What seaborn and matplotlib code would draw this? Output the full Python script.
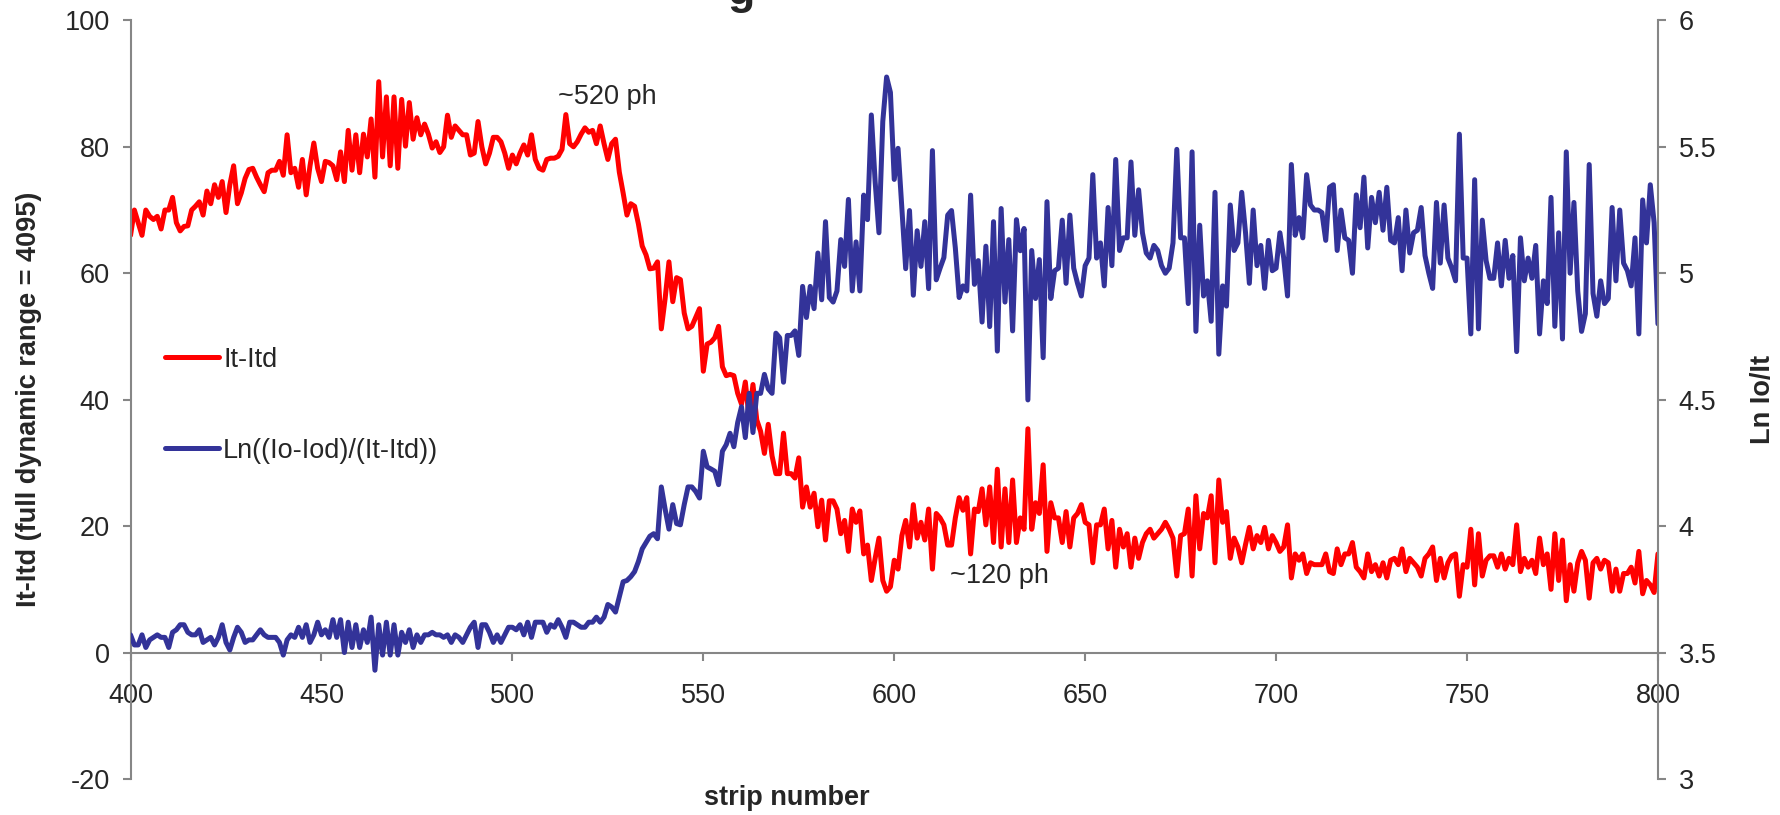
import numpy as np
import matplotlib
matplotlib.use("Agg")
import matplotlib.pyplot as plt
import seaborn as sns

# strip numbers, one value per strip
strips = np.arange(400, 801)

# It-Itd (left axis)
it_itd = [
    66, 70, 68, 66, 70, 69, 68.5, 69, 67, 70,
    70, 72, 68, 66.7, 67.4, 67.5, 70, 70.6, 71.3, 69.2,
    73, 71, 74, 72, 74.5, 69.6, 74, 77, 71, 72.7,
    75, 76.4, 76.6, 75.2, 74, 72.9, 75.9, 76.3, 76.3, 77.7,
    75.5, 81.9, 75.9, 76.6, 73.6, 78, 72.4, 77, 80.6, 76.6,
    74.5, 77.7, 77.5, 77, 74.8, 79.2, 74.5, 82.6, 76.3, 81.9,
    75.9, 82, 78.4, 84.4, 75.2, 90.3, 78.4, 87.9, 77, 87.9,
    76.6, 87.5, 80.1, 87, 81.2, 84.6, 81.9, 83.6, 82, 79.8,
    80.8, 79.1, 80, 85, 81.5, 83.3, 82.6, 81.9, 81.9, 78.7,
    79, 84, 80, 77.3, 79, 81.5, 81.5, 80.8, 79, 76.6,
    78.7, 77.3, 79, 80.3, 78.7, 81.9, 78, 76.6, 76.3, 78,
    78.2, 78.2, 78.5, 79.6, 85.1, 80.5, 80, 80.8, 82, 83,
    82.3, 82.6, 80.5, 83.3, 80.5, 78, 80.5, 81.2, 76, 72.7,
    69.2, 71, 70.6, 67.8, 64.3, 62.9, 60.7, 60.8, 61.8, 51.2,
    56, 61.8, 55.5, 59.3, 59, 53.7, 51.2, 51.6, 53, 54.4,
    44.5, 48.8, 49.1, 49.8, 51.6, 45.2, 43.8, 44, 43.8, 41,
    39.3, 42.8, 37.1, 42.4, 36.8, 35, 31.5, 36.1, 31.1, 28.3,
    28.3, 34.7, 28.3, 28.3, 27.6, 30.8, 23, 26.2, 23, 25.2,
    19.9, 24.1, 17.8, 24, 24, 22.7, 18.8, 20.9, 16, 22.7,
    20.6, 22.4, 15.6, 17, 11.4, 14.9, 18.1, 11.4, 9.7, 10.4,
    14.6, 13.2, 18.5, 20.9, 16.7, 23.4, 18.1, 20.6, 17.8, 22.7,
    13.2, 22, 21.3, 20.2, 17, 17, 21.3, 24.5, 22.5, 24.5,
    15.6, 22.7, 22.3, 25.9, 20.2, 26.2, 17.4, 29, 16.7, 25.9,
    17.4, 27.3, 17.4, 21.3, 19.5, 35.4, 19.5, 23.7, 22, 29.7,
    16, 23.7, 21.3, 21.3, 17.4, 22.3, 16.7, 21.3, 22, 23.4,
    20.6, 20.2, 14.2, 20.2, 20.2, 22.7, 16.4, 20.9, 13.5, 19.5,
    16.7, 18.8, 13.5, 18.1, 14.9, 17.4, 18.8, 19.5, 18.1, 18.8,
    19.5, 20.6, 19.5, 18.1, 12.1, 18.5, 18.8, 22.7, 12.1, 24.8,
    16.4, 22, 21.3, 24.8, 14.2, 27.3, 20.6, 22.3, 14.9, 18.1,
    16.7, 14.2, 17.1, 19.8, 16.4, 18.5, 17.4, 19.8, 16.4, 18.5,
    17.4, 16, 16.7, 20.2, 11.8, 15.6, 14.6, 15.6, 12.5, 14.2,
    13.9, 13.9, 13.9, 15.6, 12.8, 12.5, 16.4, 13.9, 15.6, 15.6,
    17.4, 13.5, 12.8, 11.8, 15.6, 12.8, 13.9, 12.1, 14.2, 11.8,
    14.6, 14.9, 13.9, 16.4, 12.8, 14.9, 14.2, 13.5, 12.1, 14.9,
    15.6, 16.7, 11.4, 14.9, 11.8, 14.2, 15.3, 15.6, 8.9, 13.9,
    13.5, 19.5, 10.7, 18.8, 12.1, 14.6, 15.3, 15.3, 13.5, 15.6,
    13.2, 14.9, 13.9, 20.2, 12.8, 14.9, 13.5, 14.6, 12.5, 18.1,
    13.9, 15.6, 10, 18.8, 11.4, 17.8, 8.2, 13.9, 9.7, 14.2,
    16, 14.6, 8.6, 14.2, 14.9, 13.2, 14.6, 14.2, 9.7, 13.2,
    9.7, 12.5, 12.5, 13.5, 11, 16, 9.3, 11.4, 10.7, 9.5,
    15.6,
]

# Ln((Io-Iod)/(It-Itd)) (right axis)
ln_ratio = [
    3.57, 3.53, 3.53, 3.57, 3.52, 3.55, 3.56, 3.57, 3.56, 3.56,
    3.52, 3.58, 3.59, 3.61, 3.61, 3.58, 3.57, 3.57, 3.59, 3.54,
    3.55, 3.56, 3.53, 3.56, 3.61, 3.54, 3.51, 3.56, 3.60, 3.58,
    3.54, 3.55, 3.55, 3.57, 3.59, 3.57, 3.56, 3.56, 3.56, 3.54,
    3.49, 3.55, 3.57, 3.56, 3.60, 3.56, 3.61, 3.54, 3.57, 3.62,
    3.57, 3.59, 3.56, 3.63, 3.56, 3.63, 3.50, 3.62, 3.52, 3.61,
    3.52, 3.59, 3.54, 3.64, 3.43, 3.61, 3.49, 3.62, 3.49, 3.61,
    3.49, 3.58, 3.54, 3.59, 3.52, 3.57, 3.54, 3.57, 3.57, 3.58,
    3.57, 3.57, 3.56, 3.57, 3.54, 3.57, 3.56, 3.54, 3.57, 3.60,
    3.62, 3.52, 3.61, 3.61, 3.58, 3.54, 3.57, 3.54, 3.57, 3.60,
    3.60, 3.59, 3.61, 3.57, 3.62, 3.56, 3.62, 3.62, 3.62, 3.58,
    3.61, 3.60, 3.63, 3.60, 3.56, 3.62, 3.62, 3.61, 3.60, 3.60,
    3.62, 3.62, 3.64, 3.62, 3.64, 3.69, 3.68, 3.66, 3.72, 3.78,
    3.785, 3.80, 3.82, 3.86, 3.91, 3.935, 3.96, 3.97, 3.95, 4.155,
    4.067, 3.988, 4.085, 4.01, 4.005, 4.085, 4.155, 4.155, 4.137, 4.111,
    4.296, 4.234, 4.226, 4.217, 4.164, 4.296, 4.322, 4.367, 4.314, 4.41,
    4.472, 4.35, 4.525, 4.37, 4.525, 4.525, 4.60, 4.543, 4.525, 4.763,
    4.745, 4.569, 4.754, 4.754, 4.772, 4.675, 4.948, 4.825, 4.948, 4.86,
    5.08, 4.895, 5.204, 4.904, 4.886, 4.93, 5.133, 5.027, 5.292, 4.93,
    5.124, 4.93, 5.309, 5.212, 5.626, 5.362, 5.16, 5.60, 5.776, 5.715,
    5.371, 5.494, 5.256, 5.018, 5.248, 4.913, 5.168, 5.027, 5.204, 4.939,
    5.485, 4.974, 5.02, 5.062, 5.23, 5.248, 5.1, 4.904, 4.95, 4.93,
    5.309, 4.956, 5.05, 4.807, 5.107, 4.789, 5.204, 4.692, 5.256, 4.886,
    5.133, 4.772, 5.212, 5.089, 5.177, 4.499, 5.09, 4.9, 5.054, 4.666,
    5.283, 4.9, 5.01, 5.02, 5.21, 4.96, 5.23, 5.02, 4.96, 4.91,
    5.03, 5.06, 5.39, 5.06, 5.12, 4.95, 5.26, 5.03, 5.45, 5.09,
    5.14, 5.14, 5.44, 5.15, 5.33, 5.16, 5.08, 5.06, 5.11, 5.09,
    5.03, 5.00, 5.02, 5.12, 5.49, 5.14, 5.14, 4.88, 5.48, 4.77,
    5.19, 4.91, 4.97, 4.81, 5.32, 4.68, 4.95, 4.87, 5.27, 5.09,
    5.12, 5.32, 5.16, 4.96, 5.25, 5.03, 5.11, 4.94, 5.13, 5.01,
    5.02, 5.16, 5.06, 4.91, 5.43, 5.15, 5.22, 5.14, 5.39, 5.27,
    5.25, 5.25, 5.24, 5.13, 5.34, 5.35, 5.09, 5.25, 5.14, 5.13,
    5.00, 5.31, 5.18, 5.38, 5.10, 5.30, 5.20, 5.32, 5.17, 5.34,
    5.13, 5.12, 5.22, 5.01, 5.25, 5.08, 5.16, 5.17, 5.26, 5.07,
    5.00, 4.94, 5.28, 5.04, 5.27, 5.06, 5.02, 4.97, 5.55, 5.06,
    5.06, 4.76, 5.37, 4.78, 5.21, 5.05, 4.98, 4.98, 5.12, 4.95,
    5.13, 4.98, 5.07, 4.69, 5.14, 4.97, 5.06, 4.98, 5.11, 4.76,
    4.97, 4.88, 5.30, 4.79, 5.16, 4.74, 5.48, 5.00, 5.28, 4.93,
    4.77, 4.84, 5.43, 4.92, 4.83, 4.97, 4.88, 4.90, 5.26, 4.97,
    5.25, 5.04, 5.01, 4.95, 5.14, 4.76, 5.29, 5.12, 5.35, 5.20,
    4.80,
]

x_ticks = [400, 450, 500, 550, 600, 650, 700, 750, 800]
left_ticks = [-20, 0, 20, 40, 60, 80, 100]
right_ticks = [3, 3.5, 4, 4.5, 5, 5.5, 6]

RED = "#FF0000"
BLUE = "#333399"
GREY = "#868686"
FS = 19.5

sns.set_style("white")
plt.rcParams["font.family"] = ["Liberation Sans", "DejaVu Sans"]
plt.rcParams["axes.unicode_minus"] = False

fig = plt.figure(figsize=(17.81, 8.15), dpi=100)
ax = fig.add_axes([0.0733, 0.0442, 0.8576, 0.9308])
ax2 = ax.twinx()

sns.lineplot(x=strips, y=it_itd, ax=ax, color=RED, linewidth=3.6, legend=False)
sns.lineplot(x=strips, y=ln_ratio, ax=ax2, color=BLUE, linewidth=3.6, legend=False)
for line in ax.lines + ax2.lines:
    line.set_solid_joinstyle("round")

ax.set_xlim(400, 800)
ax.set_ylim(-20, 100)
ax2.set_ylim(3, 6)
ax.set_xticks(x_ticks)
ax.set_yticks(left_ticks)
ax2.set_yticks(right_ticks)
ax2.set_yticklabels([f"{t:g}" for t in right_ticks])

# spines: left / right grey, x axis line sits at y = 0
ax.spines["top"].set_visible(False)
ax.spines["right"].set_visible(False)
ax.spines["bottom"].set_position(("data", 0))
for a in (ax, ax2):
    for s in a.spines.values():
        s.set_color(GREY)
        s.set_linewidth(1.5)
ax2.spines["top"].set_visible(False)
ax2.spines["left"].set_visible(False)
ax2.spines["bottom"].set_visible(False)

ax.tick_params(axis="x", direction="out", length=6, width=1.5, color=GREY,
               labelsize=FS, pad=16, bottom=True)
ax.tick_params(axis="y", direction="out", length=6, width=1.5, color=GREY,
               labelsize=FS, pad=9, left=True)
ax2.tick_params(axis="y", direction="out", length=6, width=1.5, color=GREY,
                labelsize=FS, pad=9, right=True)

ax.set_xlabel("")
ax.set_ylabel("It-Itd (full dynamic range = 4095)", fontsize=FS, fontweight="bold")
ax.yaxis.set_label_coords(-0.058, 0.5)
ax2.set_ylabel("Ln Io/It", fontsize=FS, fontweight="bold")
ax2.yaxis.set_label_coords(1.06, 0.5)
fig.text(0.4417, 0.021, "strip number", fontsize=FS, fontweight="bold",
         ha="center", va="center")

# annotations
ax.text(524.8, 87.9, "~520 ph", fontsize=FS, ha="center", va="center")
ax.text(627.6, 12.1, "~120 ph", fontsize=FS, ha="center", va="center")

# title, only its descender shows above the plot
fig.text(0.408, 0.995, "g", fontsize=32, fontweight="bold", ha="left", va="baseline")

fig.legend(handles=[ax.lines[0], ax2.lines[0]],
           labels=["It-Itd", "Ln((Io-Iod)/(It-Itd))"],
           loc="center left", bbox_to_anchor=(0.0926, 0.503),
           bbox_transform=fig.transFigure, frameon=False, fontsize=FS,
           handlelength=2.0, handletextpad=0.15, labelspacing=2.4,
           borderpad=0, borderaxespad=0)

fig.savefig("out.png", dpi=100)
